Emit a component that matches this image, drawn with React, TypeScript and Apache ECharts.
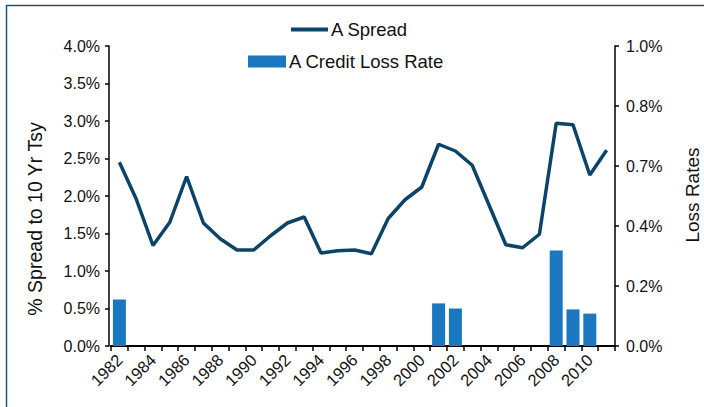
import React, { useEffect, useRef } from "react";
import * as echarts from "echarts";

// Years on the category axis
const years: string[] = [
  "1982", "1983", "1984", "1985", "1986", "1987", "1988", "1989", "1990", "1991",
  "1992", "1993", "1994", "1995", "1996", "1997", "1998", "1999", "2000", "2001",
  "2002", "2003", "2004", "2005", "2006", "2007", "2008", "2009", "2010", "2011",
];

// A-rated spread to the 10 year Treasury, in percent
const aSpread: number[] = [
  2.45, 1.96, 1.34, 1.65, 2.26, 1.64, 1.43, 1.28, 1.28, 1.47,
  1.64, 1.72, 1.24, 1.27, 1.28, 1.23, 1.70, 1.95, 2.12, 2.69,
  2.60, 2.41, 1.88, 1.35, 1.31, 1.49, 2.97, 2.95, 2.28, 2.61,
];

// A credit loss rate, in percent (null where no loss was recorded)
const aCreditLossRate: (number | null)[] = [
  0.155, null, null, null, null, null, null, null, null, null,
  null, null, null, null, null, null, null, null, null, 0.142,
  0.125, null, null, null, null, null, 0.318, 0.122, 0.108, null,
];

// Tick labels of the right-hand (loss rate) axis
const lossRateTickLabels: string[] = ["0.0%", "0.2%", "0.4%", "0.7%", "0.8%", "1.0%"];

const FONT = "'Liberation Sans', Arial, sans-serif";
const LINE_COLOR = "#0c4469";
const BAR_COLOR = "#1b77bf";
const BORDER_COLOR = "#1f5479";
const TEXT_COLOR = "#111";

export default function App() {
  const ref = useRef<HTMLDivElement | null>(null);

  useEffect(() => {
    if (!ref.current) return;
    const chart = echarts.init(ref.current, null, { renderer: "svg" });

    chart.setOption({
      animation: false,
      backgroundColor: "#ffffff",
      textStyle: { fontFamily: FONT },
      legend: [
        {
          data: ["A Spread"],
          left: 291,
          top: 20,
          padding: 0,
          icon: "rect",
          itemWidth: 37,
          itemHeight: 4,
          selectedMode: false,
          textStyle: { fontFamily: FONT, fontSize: 18.5, color: TEXT_COLOR, lineHeight: 19, padding: [0, 0, 0, -2] },
        },
        {
          data: ["A Credit Loss Rate"],
          left: 248,
          top: 52,
          padding: 0,
          icon: "rect",
          itemWidth: 38,
          itemHeight: 12,
          selectedMode: false,
          textStyle: { fontFamily: FONT, fontSize: 18.5, color: TEXT_COLOR, lineHeight: 19, padding: [0, 0, 0, -2] },
        },
      ],
      grid: { left: 111, right: 89, top: 46, bottom: 61, containLabel: false },
      xAxis: {
        type: "category",
        data: years,
        boundaryGap: true,
        axisLine: { lineStyle: { color: "#000", width: 2 } },
        axisTick: { show: true, interval: 0, length: 5, lineStyle: { color: "#000", width: 1.5 } },
        axisLabel: {
          interval: 1,
          rotate: 45,
          margin: 11,
          fontSize: 16.5,
          color: TEXT_COLOR,
          fontFamily: FONT,
        },
      },
      yAxis: [
        {
          type: "value",
          min: 0,
          max: 4,
          interval: 0.5,
          offset: 2,
          splitLine: { show: false },
          axisLine: { show: true, lineStyle: { color: "#000", width: 1.5 } },
          axisTick: { show: true, length: 4, lineStyle: { color: "#000", width: 1.5 } },
          axisLabel: {
            margin: 9,
            fontSize: 16,
            color: TEXT_COLOR,
            fontFamily: FONT,
            formatter: (v: number) => v.toFixed(1) + "%",
          },
        },
        {
          type: "value",
          min: 0,
          max: 1,
          interval: 0.2,
          position: "right",
          splitLine: { show: false },
          axisLine: { show: true, lineStyle: { color: "#000", width: 1.5 } },
          axisTick: { show: true, length: 4, lineStyle: { color: "#000", width: 1.5 } },
          axisLabel: {
            margin: 11,
            fontSize: 16,
            color: TEXT_COLOR,
            fontFamily: FONT,
            formatter: (_v: number, idx: number) => lossRateTickLabels[idx] ?? "",
          },
        },
      ],
      graphic: [
        {
          type: "line",
          shape: { x1: 6, y1: 5.5, x2: 704, y2: 5.5 },
          style: { stroke: BORDER_COLOR, lineWidth: 1.5 },
        },
        {
          type: "line",
          shape: { x1: 6.5, y1: 5, x2: 6.5, y2: 407 },
          style: { stroke: BORDER_COLOR, lineWidth: 1.5 },
        },
        {
          type: "text",
          x: 35,
          y: 219,
          rotation: Math.PI / 2,
          style: {
            text: "% Spread to 10 Yr Tsy",
            fontFamily: FONT,
            fontSize: 19.5,
            fill: TEXT_COLOR,
            align: "center",
            verticalAlign: "middle",
          },
        },
        {
          type: "text",
          x: 692,
          y: 195,
          rotation: Math.PI / 2,
          style: {
            text: "Loss Rates",
            fontFamily: FONT,
            fontSize: 19,
            fill: TEXT_COLOR,
            align: "center",
            verticalAlign: "middle",
          },
        },
      ],
      series: [
        {
          name: "A Credit Loss Rate",
          type: "bar",
          yAxisIndex: 1,
          data: aCreditLossRate,
          barWidth: 13,
          itemStyle: { color: BAR_COLOR },
          z: 1,
        },
        {
          name: "A Spread",
          type: "line",
          yAxisIndex: 0,
          data: aSpread,
          symbol: "none",
          lineStyle: { color: LINE_COLOR, width: 3.5 },
          itemStyle: { color: LINE_COLOR },
          z: 3,
        },
      ],
    });

    return () => chart.dispose();
  }, []);

  return (
    <div
      ref={ref}
      style={{ position: "absolute", left: 0, top: 0, width: 704, height: 407 }}
    />
  );
}
